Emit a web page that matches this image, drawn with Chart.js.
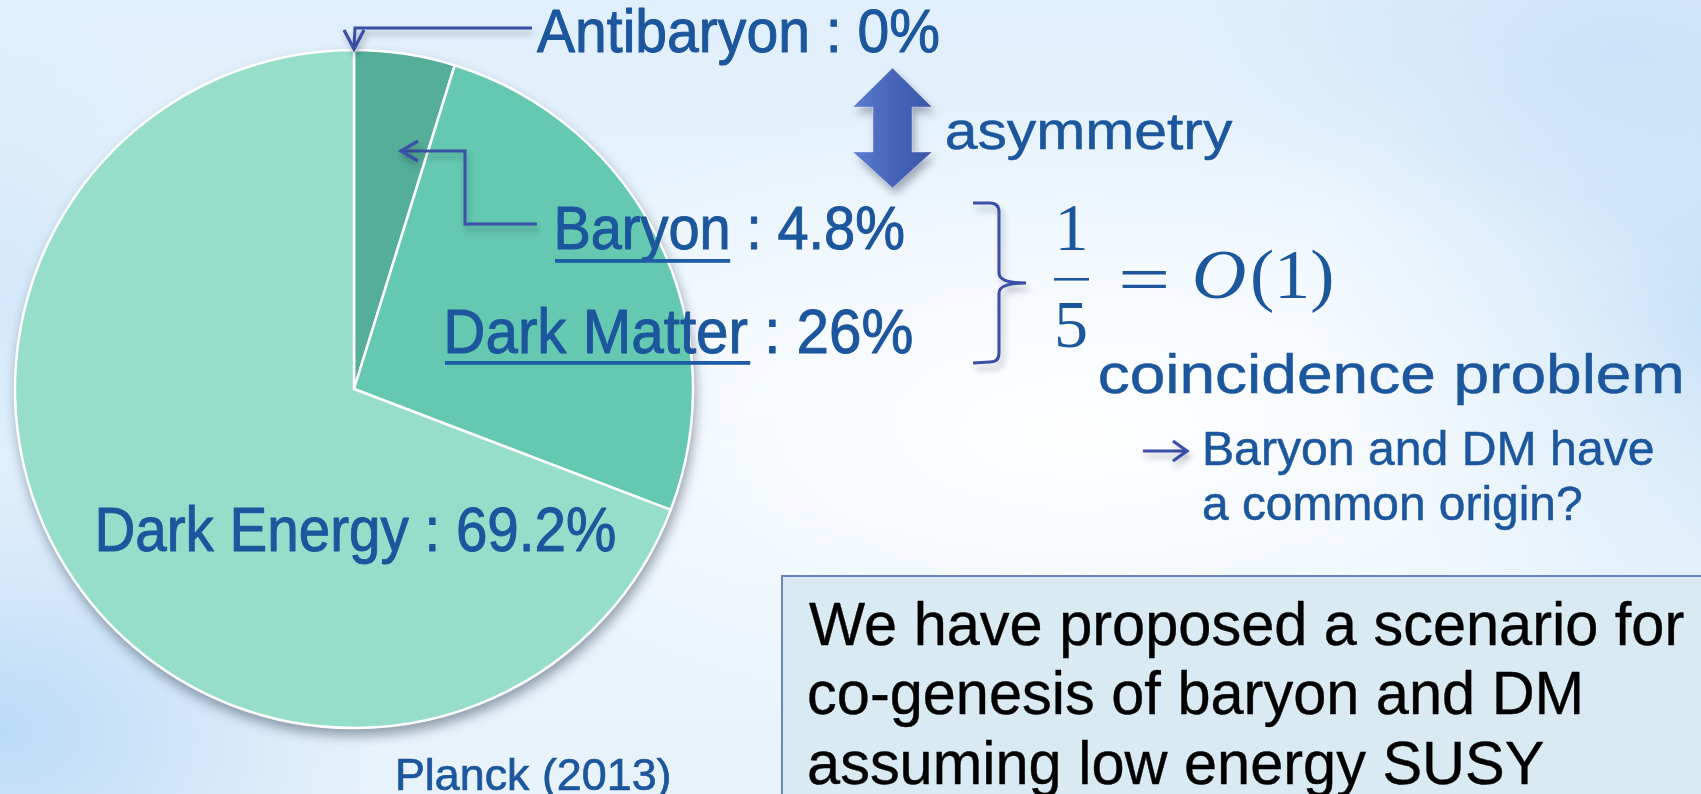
<!DOCTYPE html>
<html>
<head>
<meta charset="utf-8">
<title>Energy budget of the Universe</title>
<script src="https://cdn.jsdelivr.net/npm/chart.js@4.4.1/dist/chart.umd.min.js"></script>
<style>
  html, body { margin: 0; padding: 0; width: 1701px; height: 794px; overflow: hidden; }
  body {
    background:
      radial-gradient(ellipse 720px 330px at 1080px 430px, rgba(255,255,255,0.95), rgba(255,255,255,0) 100%),
      radial-gradient(ellipse 420px 320px at 1720px 330px, rgba(192,222,246,0.9), rgba(192,222,246,0) 100%),
      radial-gradient(ellipse 440px 210px at 1620px 50px, rgba(200,226,247,0.85), rgba(200,226,247,0) 100%),
      radial-gradient(ellipse 380px 270px at 0px 730px, rgba(184,217,246,0.95), rgba(184,217,246,0) 100%),
      radial-gradient(ellipse 260px 300px at 0px 300px, rgba(205,229,249,0.8), rgba(205,229,249,0) 100%),
      linear-gradient(180deg, #E0EFFC 0%, #EDF6FD 45%, #E7F2FB 100%);
  }
  canvas { display: block; }
</style>
</head>
<body>
<canvas id="budget" width="1701" height="794"></canvas>
<script>
// Components of the cosmic energy budget, clockwise from 12 o'clock
const components = ['Antibaryon', 'Baryon', 'Dark Matter', 'Dark Energy'];
const shares = [0, 4.8, 26, 69.2];            // percent
const sliceColors = ['#4FA58F', '#55AF98', '#64C9B0', '#96DEC9'];
const source = 'Planck (2013)';

// Side notes
const asymmetryNote = 'asymmetry';
const ratioNumerator = '1';
const ratioDenominator = '5';
const orderSymbol = 'O';
const orderArgument = '(1)';
const problemNotes = ['coincidence problem', 'Baryon and DM have', 'a common origin?'];
const summaryLines = ['We have proposed a scenario for', 'co-genesis of baryon and DM', 'assuming low energy SUSY'];

const BLUE_TEXT = '#1C569D';
const ARROW_BLUE = '#3A4FA6';
const SANS = '"Liberation Sans", Arial, sans-serif';
const SERIF = '"Liberation Serif", "Times New Roman", serif';

// Draw text so that its ink starts at `left`, sits on `base`, has the given
// reference-glyph height and (optionally) the given ink width.
function fitText(ctx, text, o) {
  ctx.save();
  const style = o.style || '';
  ctx.font = `${style} 100px ${o.family}`;
  const refA = ctx.measureText(o.ref || 'H').actualBoundingBoxAscent;
  const size = o.size || o.refH * 100 / refA;
  ctx.font = `${style} ${size}px ${o.family}`;
  ctx.textAlign = 'left';
  ctx.textBaseline = 'alphabetic';
  const m = ctx.measureText(text);
  const ink = m.actualBoundingBoxLeft + m.actualBoundingBoxRight;
  const sx = o.sx || (o.width ? o.width / ink : 1);
  let left = o.left;
  if (o.center !== undefined) left = o.center - ink * sx / 2;
  let base = o.base;
  if (o.top !== undefined) base = o.top + m.actualBoundingBoxAscent;
  const x0 = left + m.actualBoundingBoxLeft * sx;
  ctx.translate(x0, base);
  ctx.scale(sx, 1);
  ctx.fillStyle = o.color;
  ctx.fillText(text, 0, 0);
  if (o.weight) {
    // a hairline outline gives the heavier stroke of the slide fonts
    ctx.lineWidth = o.weight;
    ctx.strokeStyle = o.color;
    ctx.lineJoin = 'round';
    ctx.strokeText(text, 0, 0);
  }
  let underlineEnd = null;
  if (o.underline) {
    const um = ctx.measureText(o.underline);
    underlineEnd = x0 + um.actualBoundingBoxRight * sx;
  }
  ctx.restore();
  return { size, sx, base, underlineEnd };
}

function withShadow(ctx, fn, blur = 6, dx = 2, dy = 5, color = 'rgba(20,30,50,0.28)') {
  ctx.save();
  ctx.shadowColor = color;
  ctx.shadowBlur = blur;
  ctx.shadowOffsetX = dx;
  ctx.shadowOffsetY = dy;
  fn();
  ctx.restore();
}

function polyline(ctx, pts, width, color) {
  ctx.beginPath();
  ctx.moveTo(pts[0][0], pts[0][1]);
  for (let i = 1; i < pts.length; i++) ctx.lineTo(pts[i][0], pts[i][1]);
  ctx.lineWidth = width;
  ctx.strokeStyle = color;
  ctx.lineJoin = 'miter';
  ctx.lineCap = 'butt';
  ctx.stroke();
}

// Soft drop shadow beneath the pie
const pieShadow = {
  id: 'pieShadow',
  beforeDatasetsDraw(chart) {
    const arc = chart.getDatasetMeta(0).data[0];
    const { x, y, outerRadius } = arc.getProps(['x', 'y', 'outerRadius'], true);
    const c = chart.ctx;
    withShadow(c, () => {
      c.beginPath();
      c.arc(x, y, outerRadius + 1, 0, Math.PI * 2);
      c.fillStyle = sliceColors[3];
      c.fill();
    }, 12, 2, 7, 'rgba(40,55,75,0.45)');
  }
};

// Labels, leader arrows and side notes
const notesLayer = {
  id: 'notesLayer',
  afterDraw(chart) {
    const c = chart.ctx;
    const label = i => `${components[i]} : ${shares[i]}%`;

    // summary box
    c.save();
    c.fillStyle = '#DAEAF3';
    c.fillRect(781, 575, 960, 260);
    c.strokeStyle = '#6C84C2';
    c.lineWidth = 2;
    c.strokeRect(782, 576, 960, 260);
    c.restore();
    const first = fitText(c, summaryLines[0], { left: 809, base: 645, refH: 42, width: 875, family: SANS, color: '#000', weight: 0.4 });
    fitText(c, summaryLines[1], { left: 809, base: 714, size: first.size, sx: first.sx, family: SANS, color: '#000', weight: 0.4 });
    fitText(c, summaryLines[2], { left: 809, base: 784, size: first.size, sx: first.sx, family: SANS, color: '#000', weight: 0.4 });

    // pie labels
    const W = 1.0;
    fitText(c, label(0), { left: 537, base: 52, refH: 42, width: 401, family: SANS, color: BLUE_TEXT, weight: W });
    const b = fitText(c, label(1), { left: 558, base: 249, refH: 42, width: 345, family: SANS, color: BLUE_TEXT, weight: W, underline: components[1] });
    const d = fitText(c, label(2), { left: 448, base: 353, refH: 43, width: 464, family: SANS, color: BLUE_TEXT, weight: W, underline: components[2] });
    fitText(c, label(3), { left: 99, base: 551, refH: 43, width: 516, family: SANS, color: BLUE_TEXT, weight: W });
    fitText(c, source, { left: 398, base: 790, refH: 30, width: 271, family: SANS, color: BLUE_TEXT, weight: 0.7 });

    c.save();
    c.fillStyle = '#1E5DA6';
    c.fillRect(555, 259, b.underlineEnd + 3 - 555, 3.8);
    c.fillRect(445, 361, d.underlineEnd + 3 - 445, 3.8);
    c.restore();

    // leader arrows
    withShadow(c, () => {
      polyline(c, [[532, 28], [355, 28], [354, 47]], 3, ARROW_BLUE);
      polyline(c, [[344, 30], [354, 49], [364, 30]], 3.2, ARROW_BLUE);
      polyline(c, [[537, 224], [465, 224], [465, 151], [402, 151]], 3, ARROW_BLUE);
      polyline(c, [[418, 141], [401, 151], [418, 161]], 3.2, ARROW_BLUE);
      polyline(c, [[1143, 451], [1185, 451]], 3, ARROW_BLUE);
      polyline(c, [[1173, 441], [1187, 451], [1173, 461]], 3.2, ARROW_BLUE);
    });

    // curly bracket
    withShadow(c, () => {
      c.beginPath();
      c.moveTo(973, 203);
      c.lineTo(990, 203);
      c.quadraticCurveTo(999, 203, 999, 212);
      c.lineTo(999, 273);
      c.quadraticCurveTo(999, 283, 1026, 283);
      c.moveTo(1026, 283);
      c.quadraticCurveTo(999, 283, 999, 293);
      c.lineTo(999, 353);
      c.quadraticCurveTo(999, 362, 990, 362);
      c.lineTo(973, 363);
      c.lineWidth = 3;
      c.strokeStyle = ARROW_BLUE;
      c.stroke();
    }, 6, 3, 6);

    // double-headed asymmetry arrow
    const cx = 892.5;
    const shape = [[cx, 68], [cx + 39.5, 107], [cx + 19.5, 107], [cx + 19.5, 152], [cx + 39.5, 152],
                   [cx, 188], [cx - 39.5, 152], [cx - 19.5, 152], [cx - 19.5, 107], [cx - 39.5, 107]];
    withShadow(c, () => {
      c.beginPath();
      shape.forEach((p, i) => i ? c.lineTo(p[0], p[1]) : c.moveTo(p[0], p[1]));
      c.closePath();
      const g = c.createLinearGradient(cx - 40, 0, cx + 40, 0);
      g.addColorStop(0, '#5C7ED1');
      g.addColorStop(0.5, '#4764B9');
      g.addColorStop(1, '#3C57A9');
      c.fillStyle = g;
      c.fill();
    }, 8, 3, 6, 'rgba(20,30,60,0.35)');
    c.save();
    c.beginPath();
    shape.forEach((p, i) => i ? c.lineTo(p[0], p[1]) : c.moveTo(p[0], p[1]));
    c.closePath();
    c.lineWidth = 1;
    c.strokeStyle = 'rgba(255,255,255,0.35)';
    c.stroke();
    c.restore();
    fitText(c, asymmetryNote, { left: 947, base: 149, ref: 'x', refH: 27.5, width: 286, family: SANS, color: BLUE_TEXT, weight: 0.5 });

    // 1/5 = O(1)
    const mathSize = fitText(c, ratioNumerator, { center: 1072, base: 250, ref: '1', refH: 45, family: SERIF, color: BLUE_TEXT }).size;
    fitText(c, ratioDenominator, { center: 1071.5, base: 347, size: mathSize, family: SERIF, color: BLUE_TEXT });
    c.save();
    c.fillStyle = BLUE_TEXT;
    c.fillRect(1054, 278, 35, 2.6);
    c.restore();
    fitText(c, '=', { left: 1122, top: 271, size: mathSize, width: 45, family: SERIF, color: BLUE_TEXT });
    fitText(c, orderSymbol, { left: 1195, base: 298, size: mathSize * 1.02, width: 50, style: 'italic', family: SERIF, color: BLUE_TEXT });
    fitText(c, orderArgument, { left: 1253, base: 298, size: mathSize * 1.03, width: 79, family: SERIF, color: BLUE_TEXT });

    // coincidence problem notes
    fitText(c, problemNotes[0], { left: 1100, base: 393, ref: 'x', refH: 30, width: 581, family: SANS, color: BLUE_TEXT, weight: 0.5 });
    fitText(c, problemNotes[1], { left: 1205, base: 465, refH: 33, width: 448, family: SANS, color: BLUE_TEXT, weight: 0.5 });
    fitText(c, problemNotes[2], { left: 1204, base: 520, refH: 33, width: 377, family: SANS, color: BLUE_TEXT, weight: 0.5 });
  }
};

new Chart(document.getElementById('budget'), {
  type: 'pie',
  data: {
    labels: components,
    datasets: [{
      data: shares,
      backgroundColor: sliceColors,
      borderColor: '#FFFFFF',
      borderWidth: 2.5,
      hoverOffset: 0
    }]
  },
  options: {
    responsive: false,
    animation: false,
    devicePixelRatio: 1,
    radius: 339,
    layout: { padding: { left: 0, top: 0, right: 993, bottom: 16 } },
    events: [],
    plugins: {
      legend: { display: false },
      tooltip: { enabled: false },
      title: { display: false }
    }
  },
  plugins: [pieShadow, notesLayer]
});
</script>
</body>
</html>
